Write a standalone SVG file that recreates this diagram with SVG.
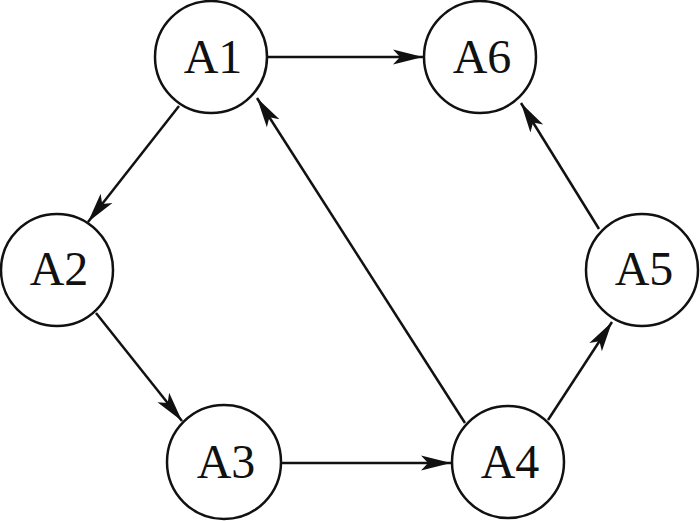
<svg xmlns="http://www.w3.org/2000/svg" width="700" height="521" viewBox="0 0 700 521">
<style>
.node circle{fill:#fff;stroke:#111;stroke-width:2.5}
.node text{font-family:"Liberation Serif","DejaVu Serif",serif;font-size:48px;fill:#111;text-anchor:middle}
.edges line{stroke:#111;stroke-width:2.5;marker-end:url(#ah)}
</style>
<defs>
<marker id="ah" markerUnits="userSpaceOnUse" markerWidth="32" markerHeight="18" viewBox="0 0 32 18" refX="30" refY="9" orient="auto">
<path d="M0,1.5 L30,9 L0,16.5 L7,9 Z" fill="#111"/>
</marker>
</defs>
<rect width="700" height="521" fill="#fff"/>
<g class="edges">
<line x1="267" y1="57" x2="423" y2="57"/>
<line x1="179" y1="106" x2="88" y2="222"/>
<line x1="96" y1="313" x2="182" y2="421"/>
<line x1="281" y1="463" x2="451" y2="463"/>
<line x1="465" y1="423" x2="257" y2="98"/>
<line x1="548" y1="420" x2="612" y2="322"/>
<line x1="599" y1="229" x2="521" y2="103"/>
</g>
<g id="A1" class="node"><circle cx="211" cy="57" r="56"/><text x="213" y="73">A1</text></g>
<g id="A6" class="node"><circle cx="480" cy="57" r="56"/><text x="482" y="73">A6</text></g>
<g id="A2" class="node"><circle cx="57" cy="270" r="56"/><text x="59" y="285">A2</text></g>
<g id="A5" class="node"><circle cx="642" cy="270" r="56"/><text x="644" y="285">A5</text></g>
<g id="A3" class="node"><circle cx="224" cy="462" r="57"/><text x="226" y="478">A3</text></g>
<g id="A4" class="node"><circle cx="508" cy="462" r="56"/><text x="510" y="478">A4</text></g>
</svg>
